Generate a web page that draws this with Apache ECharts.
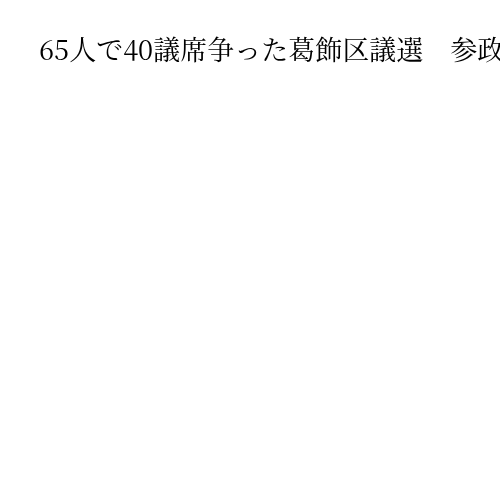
<!DOCTYPE html>
<html><head><meta charset="utf-8">
<script src="https://cdn.jsdelivr.net/npm/echarts@6/dist/echarts.min.js"></script>
<style>html,body{margin:0;padding:0;background:#fff}#c{width:500px;height:500px}</style>
</head><body><div id="c"></div>
<script>
const titleText = '65人で40議席争った葛飾区議選　参政党が議席獲得';
const categories = [];
const values = [];
const chart = echarts.init(document.getElementById('c'));
chart.setOption({
  animation: false,
  title: {
    text: titleText,
    left: 34,
    top: 31,
    textStyle: { fontFamily: '"Noto Serif CJK JP", serif', fontSize: 27, fontWeight: 'normal', color: '#000' }
  },
  xAxis: { show: false, type: 'category', data: categories },
  yAxis: { show: false, type: 'value' },
  series: [{ type: 'bar', data: values }]
});
</script></body></html>
